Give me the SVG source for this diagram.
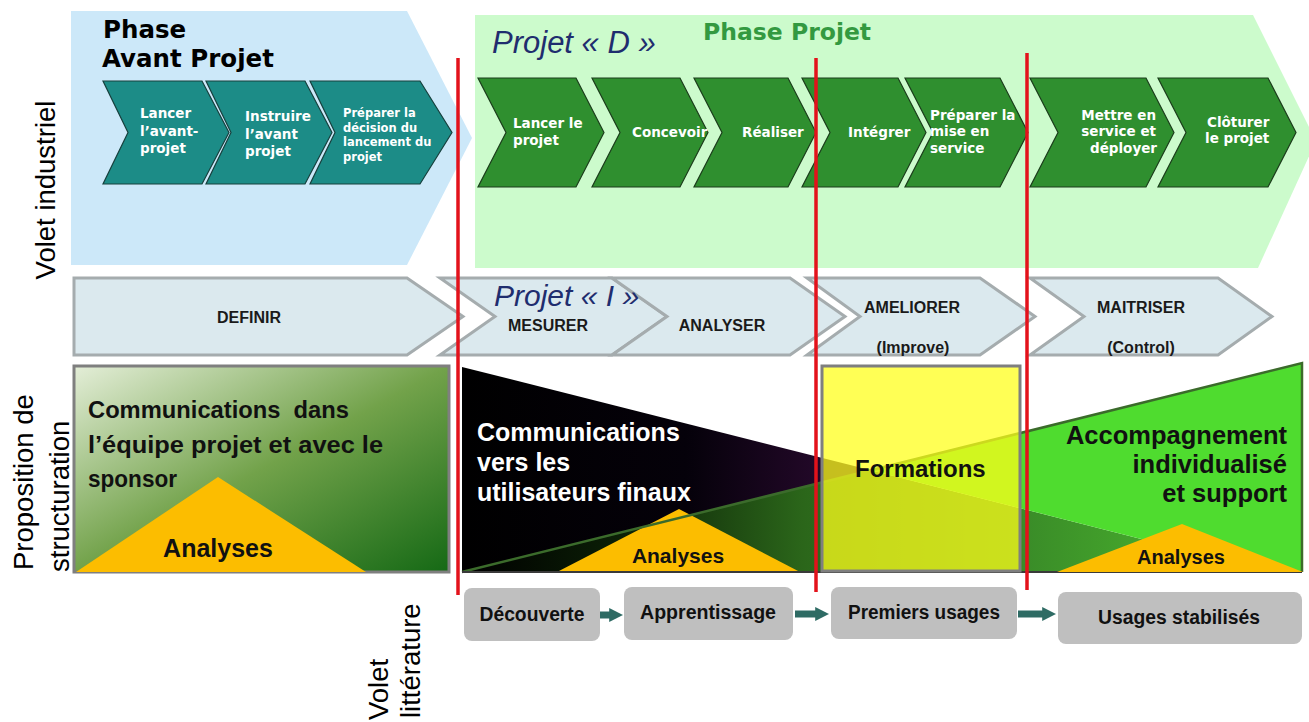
<svg xmlns="http://www.w3.org/2000/svg" width="1309" height="722" viewBox="0 0 1309 722">
<defs>
<style>
.chevT{fill:#1c8c87;stroke:#16403d;stroke-width:1.2}
.chevG{fill:#2f8f2f;stroke:#1b3d1b;stroke-width:1.2}
.tc{font-family:"DejaVu Sans",Verdana,sans-serif;font-weight:bold;fill:#fff;font-size:13.5px}
.tcs{font-family:"DejaVu Sans",Verdana,sans-serif;font-weight:bold;fill:#fff;font-size:11.5px}
.dm{fill:#dbe9ee;stroke:#a5acae;stroke-width:3;stroke-linejoin:miter}
.tdm{font-family:"Liberation Sans",Arial,sans-serif;font-weight:bold;font-size:16px;fill:#1a1a1a;text-anchor:middle}
.side{font-family:"Liberation Sans",Arial,sans-serif;font-size:27.5px;fill:#000}
.proj{font-family:"Liberation Sans",Arial,sans-serif;font-style:italic;fill:#1f2d6e}
.b{font-family:"Liberation Sans",Arial,sans-serif;font-weight:bold}
.box{fill:#bfbfbf}
.tbox{font-family:"Liberation Sans",Arial,sans-serif;font-weight:bold;font-size:20px;fill:#111;text-anchor:middle}
.red{stroke:#e3121b;stroke-width:3.5;fill:none}
.ana{fill:#fcbd00}
.conn{stroke:#2e6b64;stroke-width:7;fill:none}
</style>
<linearGradient id="gLeft" x1="0" y1="0" x2="1" y2="1">
<stop offset="0" stop-color="#e4eed8"/>
<stop offset="0.5" stop-color="#72a24a"/>
<stop offset="1" stop-color="#156915"/>
</linearGradient>
<linearGradient id="gBlack" gradientUnits="userSpaceOnUse" x1="462" y1="0" x2="870" y2="0">
<stop offset="0" stop-color="#000"/>
<stop offset="0.55" stop-color="#05010a"/>
<stop offset="1" stop-color="#2e0b34"/>
</linearGradient>
<linearGradient id="gDark" gradientUnits="userSpaceOnUse" x1="470" y1="0" x2="1210" y2="0">
<stop offset="0" stop-color="#000"/>
<stop offset="0.2" stop-color="#0b1f06"/>
<stop offset="0.45" stop-color="#2b661a"/>
<stop offset="0.75" stop-color="#3a8c28"/>
<stop offset="1" stop-color="#4ab42e"/>
</linearGradient>
<marker id="ah" viewBox="0 0 10 10" refX="2" refY="5" markerWidth="14" markerHeight="18" markerUnits="userSpaceOnUse" orient="auto">
<path d="M0,0 L10,5 L0,10 z" fill="#2e6b64"/>
</marker>
</defs>

<rect width="1309" height="722" fill="#fff"/>

<g id="phase-avant-projet">
<polygon points="71,11 407,11 472,138 407,265 71,265" fill="#cce8f9"/>
<text class="b" x="103" y="38" style="font-family:'DejaVu Sans',Verdana,sans-serif;font-size:24.5px" fill="#000">Phase</text>
<text class="b" x="102" y="67" style="font-family:'DejaVu Sans',Verdana,sans-serif;font-size:24.5px" fill="#000">Avant Projet</text>
</g>

<g id="phase-projet">
<polygon points="475,15 1253,15 1316,141 1258,268 475,268" fill="#ccfbcc"/>
<text class="b" x="703" y="40" style="font-family:'DejaVu Sans',Verdana,sans-serif;font-size:23.5px" fill="#339940">Phase Projet</text>
<text class="proj" x="492" y="53" font-size="31">Projet « D »</text>
</g>

<g id="chev-lancer-avant-projet">
<polygon class="chevT" points="103,81 202,81 229,132.5 202,184 103,184 128,132.5"/>
<text class="tc" x="140" y="118">Lancer</text>
<text class="tc" x="140" y="136">l’avant-</text>
<text class="tc" x="140" y="153">projet</text>
</g>
<g id="chev-instruire">
<polygon class="chevT" points="206,81 305,81 332,132.5 305,184 206,184 231,132.5"/>
<text class="tc" x="245" y="121">Instruire</text>
<text class="tc" x="245" y="139">l’avant</text>
<text class="tc" x="245" y="156">projet</text>
</g>
<g id="chev-preparer-decision">
<polygon class="chevT" points="310,81 420,81 452,132.5 420,184 310,184 335,132.5"/>
<text class="tcs" x="343" y="117">Préparer la</text>
<text class="tcs" x="343" y="132">décision du</text>
<text class="tcs" x="343" y="146">lancement du</text>
<text class="tcs" x="343" y="161">projet</text>
</g>

<g id="chev-lancer-projet">
<polygon class="chevG" points="478,78 576,78 604,132.5 576,187 478,187 506,132.5"/>
<text class="tc" x="513" y="128">Lancer le</text>
<text class="tc" x="513" y="145">projet</text>
</g>
<g id="chev-concevoir">
<polygon class="chevG" points="592,78 680,78 708,132.5 680,187 592,187 620,132.5"/>
<text class="tc" x="632" y="137">Concevoir</text>
</g>
<g id="chev-realiser">
<polygon class="chevG" points="694,78 788,78 816,132.5 788,187 694,187 722,132.5"/>
<text class="tc" x="742" y="137">Réaliser</text>
</g>
<g id="chev-integrer">
<polygon class="chevG" points="802,78 898,78 926,132.5 898,187 802,187 830,132.5"/>
<text class="tc" x="848" y="137">Intégrer</text>
</g>
<g id="chev-preparer-mise">
<polygon class="chevG" points="905,78 1000,78 1028,132.5 1000,187 905,187 933,132.5"/>
<text class="tc" x="930" y="120">Préparer la</text>
<text class="tc" x="930" y="136">mise en</text>
<text class="tc" x="930" y="153">service</text>
</g>
<g id="chev-mettre-en-service">
<polygon class="chevG" points="1030,78 1146,78 1174,132.5 1146,187 1030,187 1058,132.5"/>
<text class="tc" x="1156" y="120" text-anchor="end">Mettre en</text>
<text class="tc" x="1156" y="136" text-anchor="end">service et</text>
<text class="tc" x="1157" y="153" text-anchor="end">déployer</text>
</g>
<g id="chev-cloturer">
<polygon class="chevG" points="1158,78 1268,78 1296,132.5 1268,187 1158,187 1186,132.5"/>
<text class="tc" x="1207" y="127">Clôturer</text>
<text class="tc" x="1205" y="143">le projet</text>
</g>

<g id="label-volet-industriel">
<text class="side" transform="translate(55,190) rotate(-90)" text-anchor="middle" font-size="26">Volet industriel</text>
</g>

<g id="dmaic-definir">
<polygon class="dm" points="74,278 407,278 463,316.5 407,355 74,355"/>
<text class="tdm" x="249" y="323">DEFINIR</text>
</g>
<g id="dmaic-mesurer">
<polygon class="dm" points="440,278 612,278 667,316.5 612,355 440,355 495,316.5"/>
<text class="tdm" x="548" y="331">MESURER</text>
</g>
<g id="dmaic-analyser">
<polygon class="dm" points="612,278 790,278 845,316.5 790,355 612,355 667,316.5"/>
<text class="tdm" x="722" y="331">ANALYSER</text>
</g>
<g id="dmaic-ameliorer">
<polygon class="dm" points="807,278 980,278 1035,316.5 980,355 807,355 860,316.5"/>
<text class="tdm" x="912" y="313">AMELIORER</text>
<text class="tdm" x="913" y="353">(Improve)</text>
</g>
<g id="dmaic-maitriser">
<polygon class="dm" points="1030,278 1218,278 1272,316.5 1218,355 1030,355 1084,316.5"/>
<text class="tdm" x="1141" y="313">MAITRISER</text>
<text class="tdm" x="1141" y="353">(Control)</text>
</g>
<g id="projet-i">
<text class="proj" x="494" y="306" font-size="30">Projet « I »</text>
</g>

<g id="label-proposition">
<text class="side" transform="translate(33,570) rotate(-90)">Proposition de</text>
<text class="side" transform="translate(69,572) rotate(-90)">structuration</text>
</g>

<g id="comm-equipe">
<rect x="74" y="366" width="375" height="206" fill="url(#gLeft)" stroke="#7f7f7f" stroke-width="3"/>
<text class="b" x="88" y="418" font-size="24" fill="#111" xml:space="preserve" textLength="261" lengthAdjust="spacingAndGlyphs">Communications  dans</text>
<text class="b" x="88" y="453" font-size="24" fill="#111" textLength="295" lengthAdjust="spacingAndGlyphs">l’équipe projet et avec le</text>
<text class="b" x="88" y="487" font-size="24" fill="#111" textLength="89" lengthAdjust="spacingAndGlyphs">sponsor</text>
<polygon class="ana" points="76,572 218,477 366,572"/>
<text class="b" x="218" y="557" font-size="25" fill="#111" text-anchor="middle">Analyses</text>
</g>

<g id="comm-utilisateurs">
<polygon points="462,367 870,470 462,572" fill="url(#gBlack)"/>
<polygon points="462,572 870,470 1271,572" fill="url(#gDark)"/>
<text class="b" x="477" y="441" font-size="25" fill="#fff">Communications</text>
<text class="b" x="477" y="471" font-size="25" fill="#fff">vers les</text>
<text class="b" x="477" y="501" font-size="25" fill="#fff">utilisateurs finaux</text>
<polygon class="ana" points="557,572 679,509 800,572"/>
<text class="b" x="678" y="563" font-size="21" fill="#111" text-anchor="middle">Analyses</text>
</g>

<g id="accompagnement">
<polygon points="870,470 1302,363 1302,572 1271,572" fill="#4fdc2f"/>
<path d="M462,572 L1302,363 L1302,572" fill="none" stroke="#3b6b2b" stroke-width="2.5"/>
<line x1="462" y1="572" x2="1302" y2="572" stroke="#3a3a3a" stroke-width="2"/>
<text class="b" x="1287" y="444" font-size="25.5" fill="#111" text-anchor="end">Accompagnement</text>
<text class="b" x="1287" y="473" font-size="25.5" fill="#111" text-anchor="end">individualisé</text>
<text class="b" x="1287" y="502" font-size="25.5" fill="#111" text-anchor="end">et support</text>
<polygon class="ana" points="1057,572 1182,524 1303,572"/>
<text class="b" x="1181" y="564" font-size="20" fill="#111" text-anchor="middle">Analyses</text>
</g>

<g id="formations">
<rect x="822" y="366" width="198" height="205" fill="#ffff1a" fill-opacity="0.74" stroke="#7f7f7f" stroke-width="3"/>
<text class="b" x="855" y="477" font-size="24" fill="#111">Formations</text>
</g>

<g id="phase-separators">
<line class="red" x1="458" y1="58" x2="458" y2="595"/>
<line class="red" x1="816" y1="58" x2="816" y2="592"/>
<line class="red" x1="1027" y1="53" x2="1027" y2="590"/>
</g>

<g id="box-decouverte">
<rect class="box" x="464" y="588" width="136" height="53" rx="8"/>
<text class="tbox" x="532" y="621" textLength="105" lengthAdjust="spacingAndGlyphs">Découverte</text>
</g>
<g id="box-apprentissage">
<rect class="box" x="624" y="587" width="169" height="53" rx="8"/>
<text class="tbox" x="708" y="619" textLength="136" lengthAdjust="spacingAndGlyphs">Apprentissage</text>
</g>
<g id="box-premiers-usages">
<rect class="box" x="831" y="587" width="186" height="52" rx="8"/>
<text class="tbox" x="924" y="619" textLength="152" lengthAdjust="spacingAndGlyphs">Premiers usages</text>
</g>
<g id="box-usages-stabilises">
<rect class="box" x="1058" y="592" width="244" height="52" rx="8"/>
<text class="tbox" x="1179" y="624" textLength="162" lengthAdjust="spacingAndGlyphs">Usages stabilisés</text>
</g>

<g id="connectors">
<line class="conn" x1="600" y1="615" x2="612" y2="615" marker-end="url(#ah)"/>
<line class="conn" x1="795" y1="614" x2="818" y2="614" marker-end="url(#ah)"/>
<line class="conn" x1="1018" y1="614" x2="1045" y2="614" marker-end="url(#ah)"/>
</g>

<g id="label-volet-litterature">
<text class="side" transform="translate(388,720) rotate(-90)">Volet</text>
<text class="side" transform="translate(420,718) rotate(-90)">littérature</text>
</g>
</svg>
